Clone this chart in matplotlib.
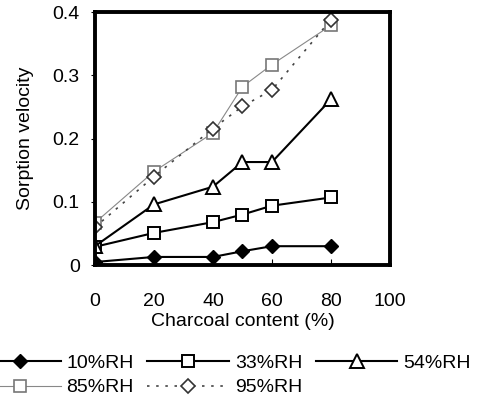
import matplotlib
matplotlib.use("Agg")
import matplotlib.pyplot as plt

plt.rcParams['font.family'] = ['Liberation Sans', 'DejaVu Sans']

charcoal = [0, 20, 40, 50, 60, 80]
rh10 = [0.005, 0.013, 0.013, 0.022, 0.030, 0.030]
rh33 = [0.029, 0.051, 0.068, 0.080, 0.094, 0.107]
rh54 = [0.030, 0.096, 0.124, 0.163, 0.163, 0.262]
rh85 = [0.067, 0.148, 0.209, 0.282, 0.317, 0.379]
rh95 = [0.060, 0.140, 0.216, 0.251, 0.277, 0.388]
labels = ['10%RH', '33%RH', '54%RH', '85%RH', '95%RH']

fig = plt.figure(figsize=(4.82, 4.03), dpi=100)
ax = fig.add_axes([0.197, 0.342, 0.612, 0.628])

h1, = ax.plot(charcoal, rh10, color='black', lw=1.5, marker='D', ms=7,
              mfc='black', mec='black')
h2, = ax.plot(charcoal, rh33, color='black', lw=1.5, marker='s', ms=9,
              mfc='white', mec='black', mew=1.4)
h3, = ax.plot(charcoal, rh54, color='black', lw=1.5, marker='^', ms=10,
              mfc='white', mec='black', mew=1.4)
h4, = ax.plot(charcoal, rh85, color='#888888', lw=0.8, marker='s', ms=9,
              mfc='white', mec='#777777', mew=1.2)
h5, = ax.plot(charcoal, rh95, color='#444444', lw=1.2, ls=(0, (1.5, 4)),
              marker='D', ms=7, mfc='white', mec='#333333', mew=1.2)

ax.set_xlim(0, 100)
ax.set_ylim(0, 0.4)
ax.set_xticks([0, 20, 40, 60, 80, 100])
ax.set_yticks([0, 0.1, 0.2, 0.3, 0.4])
ax.set_yticklabels(['0', '0.1', '0.2', '0.3', '0.4'])
for s in ax.spines.values():
    s.set_linewidth(2.8)
ax.tick_params(axis='x', direction='in', length=4, labelsize=14, pad=20)
ax.tick_params(axis='y', direction='out', length=3, labelsize=14, pad=8)
ax.set_xlabel('Charcoal content (%)', fontsize=14, labelpad=2)
ax.set_ylabel('Sorption velocity', fontsize=14, labelpad=13)

# matplotlib fills legend columns first, so reorder to read row by row
order = [0, 3, 1, 4, 2]
handles = [h1, h2, h3, h4, h5]
fig.legend([handles[i] for i in order], [labels[i] for i in order],
           loc='upper left', bbox_to_anchor=(-0.06, 0.14), ncol=3,
           frameon=False, fontsize=14, handlelength=4.2, handletextpad=0.3,
           columnspacing=0.7, borderaxespad=0, labelspacing=0.35)

fig.savefig('out.png', dpi=100)
